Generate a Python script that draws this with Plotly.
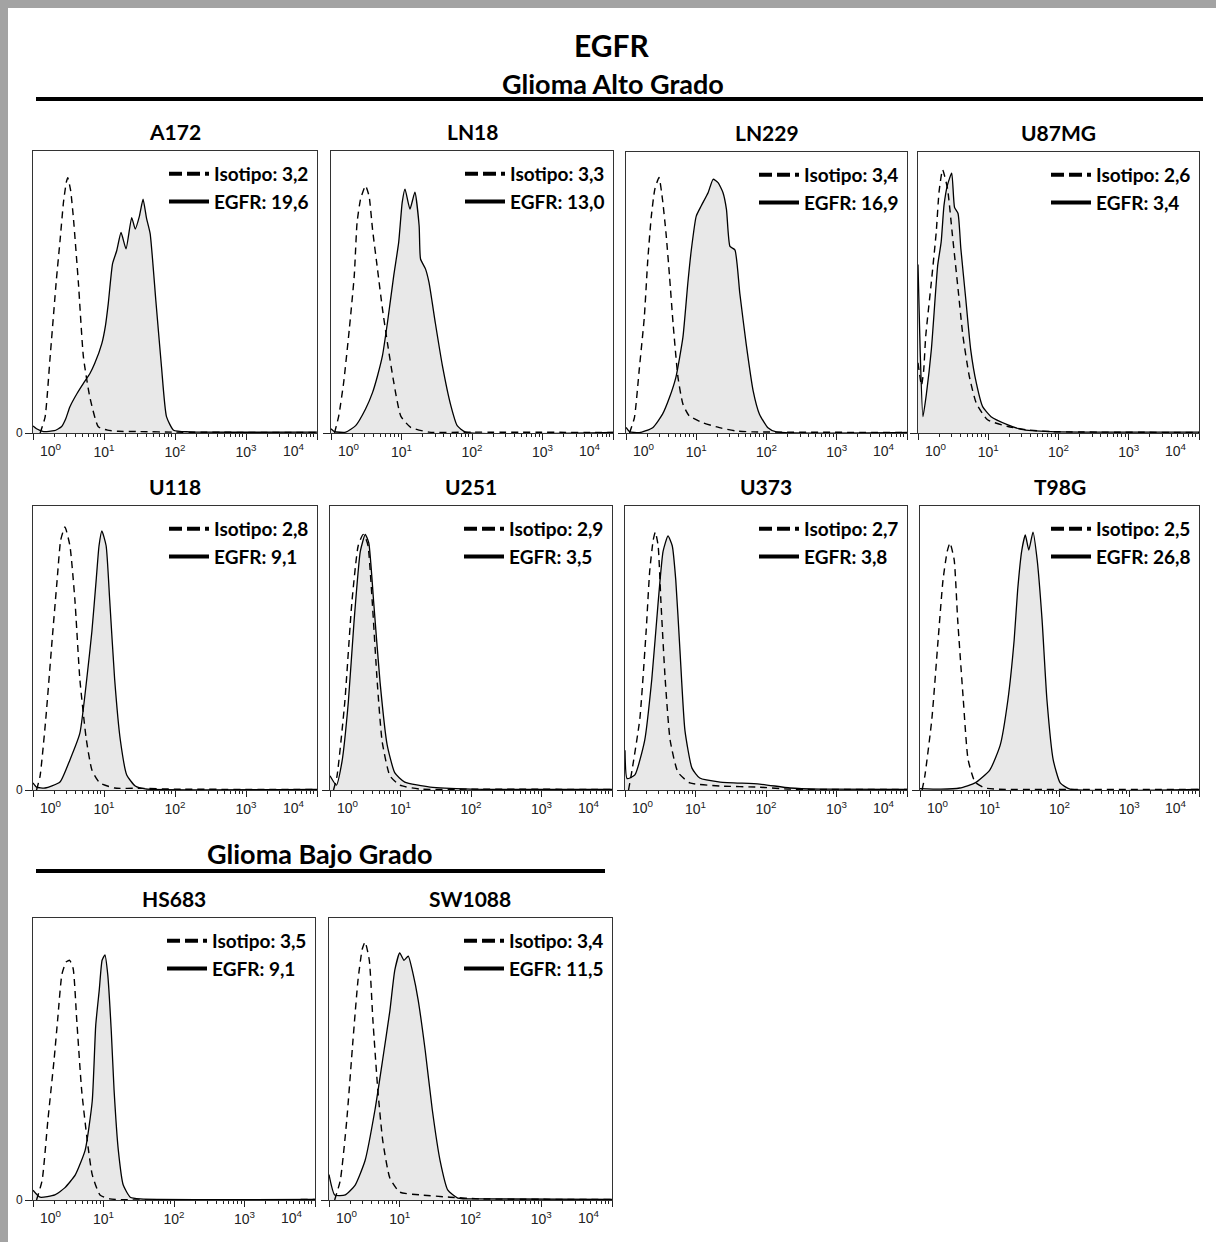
import plotly.graph_objects as go

W, H = 1216, 1242

# cell lines and mean fluorescence intensities (legend values)
CELLS = ["A172", "LN18", "LN229", "U87MG", "U118", "U251", "U373", "T98G", "HS683", "SW1088"]
ISO_MFI = ["3,2", "3,3", "3,4", "2,6", "2,8", "2,9", "2,7", "2,5", "3,5", "3,4"]
EGFR_MFI = ["19,6", "13,0", "16,9", "3,4", "9,1", "3,5", "3,8", "26,8", "9,1", "11,5"]

# histograms: x in decades (log10 FL), y in % of panel height
A172_ISO_X = [0.10, 0.17, 0.24, 0.33, 0.38, 0.43, 0.47, 0.49, 0.53, 0.57, 0.64, 0.71, 0.80, 0.92, 1.05, 1.20, 1.50, 2.00, 4.00]
A172_ISO_Y = [0.0, 5.6, 26.6, 54.5, 68.0, 82.0, 89.0, 90.5, 86.0, 76.0, 53.0, 27.0, 12.8, 2.2, 1.0, 0.6, 0.5, 0.3, 0.2]
A172_EGFR_X = [0.00, 0.05, 0.15, 0.30, 0.40, 0.46, 0.52, 0.62, 0.71, 0.80, 0.87, 0.97, 1.02, 1.06, 1.12, 1.18, 1.24, 1.31,
               1.39, 1.44, 1.50, 1.55, 1.60, 1.65, 1.73, 1.81, 1.88, 1.98, 2.20, 4.00]
A172_EGFR_Y = [2.5, 1.5, 0.5, 0.8, 2.2, 5.0, 9.3, 14.0, 17.6, 21.0, 24.7, 31.8, 38.0, 45.9, 60.0, 64.7, 71.1, 65.3,
               76.4, 72.3, 77.0, 82.9, 76.0, 70.7, 47.0, 23.4, 5.8, 1.0, 0.4, 0.3]

LN18_ISO_X = [0.05, 0.11, 0.18, 0.26, 0.33, 0.37, 0.42, 0.49, 0.54, 0.59, 0.66, 0.73, 0.80, 0.89, 0.99, 1.13, 1.39, 2.00, 4.00]
LN18_ISO_Y = [0.0, 6.1, 18.0, 36.9, 55.8, 74.7, 83.0, 87.7, 84.0, 72.0, 58.0, 44.0, 32.0, 18.0, 6.0, 2.0, 0.3, 0.3, 0.2]
LN18_EGFR_X = [0.00, 0.05, 0.21, 0.35, 0.49, 0.59, 0.66, 0.73, 0.80, 0.89, 0.96, 1.01, 1.05, 1.12, 1.19, 1.25, 1.27,
               1.34, 1.39, 1.48, 1.58, 1.70, 1.79, 1.91, 4.00]
LN18_EGFR_Y = [1.5, 0.5, 0.3, 2.6, 8.5, 14.4, 20.3, 27.4, 39.0, 55.8, 67.6, 81.8, 86.5, 79.4, 85.4, 73.5, 61.7,
               58.2, 53.4, 39.0, 23.9, 9.7, 2.6, 0.3, 0.2]

LN229_ISO_X = [0.05, 0.12, 0.19, 0.26, 0.31, 0.36, 0.41, 0.47, 0.52, 0.57, 0.62, 0.67, 0.74, 0.81, 0.90, 1.09, 1.33, 1.57, 1.81, 4.00]
LN229_ISO_Y = [0.0, 5.5, 23.0, 41.0, 61.6, 77.0, 86.7, 90.9, 83.0, 71.0, 55.7, 39.0, 19.8, 10.3, 6.1, 3.7, 1.9, 0.7, 0.4, 0.2]
LN229_EGFR_X = [0.00, 0.05, 0.19, 0.38, 0.52, 0.62, 0.71, 0.81, 0.88, 0.93, 1.00, 1.07, 1.17, 1.24, 1.31, 1.38, 1.43,
                1.48, 1.55, 1.62, 1.71, 1.81, 1.90, 2.02, 2.14, 4.00]
LN229_EGFR_Y = [2.0, 0.5, 0.1, 1.9, 6.7, 12.7, 19.8, 34.0, 53.3, 65.2, 77.2, 80.8, 85.6, 90.3, 89.1, 85.6, 79.6,
                66.4, 65.2, 49.7, 31.8, 15.0, 6.7, 1.9, 0.4, 0.2]

U87MG_ISO_X = [0.00, 0.05, 0.08, 0.11, 0.19, 0.26, 0.30, 0.35, 0.42, 0.49, 0.57, 0.64, 0.73, 0.83, 0.99, 1.28, 1.56, 1.89, 4.00]
U87MG_ISO_Y = [25.0, 17.0, 22.0, 34.5, 53.7, 71.6, 85.9, 93.7, 87.0, 70.4, 51.3, 34.5, 20.2, 10.6, 4.7, 2.3, 1.1, 0.5, 0.2]
U87MG_EGFR_X = [0.00, 0.03, 0.07, 0.12, 0.19, 0.28, 0.33, 0.37, 0.42, 0.48, 0.52, 0.57, 0.61, 0.68, 0.75, 0.83, 0.92,
                1.04, 1.28, 1.47, 1.89, 4.00]
U87MG_EGFR_Y = [60.0, 30.0, 5.8, 14.0, 29.7, 59.6, 68.0, 81.0, 88.3, 92.5, 80.3, 78.1, 65.6, 47.7, 29.7, 17.8, 9.4,
                5.8, 2.9, 1.3, 0.5, 0.3]

U118_ISO_X = [0.05, 0.10, 0.18, 0.27, 0.34, 0.39, 0.45, 0.52, 0.59, 0.66, 0.75, 0.83, 0.94, 1.15, 1.50, 2.00, 4.00]
U118_ISO_Y = [0.0, 5.0, 25.0, 53.0, 74.0, 88.0, 92.6, 86.0, 67.0, 39.0, 18.0, 7.0, 2.5, 0.7, 0.6, 0.3, 0.2]
U118_EGFR_X = [0.00, 0.05, 0.17, 0.38, 0.52, 0.66, 0.77, 0.83, 0.89, 0.93, 0.97, 1.03, 1.08, 1.15, 1.23, 1.32, 1.44, 1.58, 4.00]
U118_EGFR_Y = [2.5, 1.0, 0.7, 2.8, 10.6, 20.0, 42.0, 56.0, 74.0, 86.0, 91.2, 86.0, 67.0, 39.0, 17.6, 5.3, 1.4, 0.4, 0.2]

U251_ISO_X = [0.05, 0.10, 0.21, 0.31, 0.40, 0.47, 0.50, 0.54, 0.60, 0.67, 0.74, 0.85, 0.99, 1.28, 2.00, 4.00]
U251_ISO_Y = [0.0, 5.0, 31.0, 66.0, 86.0, 90.0, 89.0, 86.0, 66.0, 38.0, 17.0, 5.0, 1.7, 0.3, 0.3, 0.2]
U251_EGFR_X = [0.00, 0.09, 0.17, 0.26, 0.34, 0.43, 0.50, 0.55, 0.62, 0.71, 0.81, 0.92, 1.06, 1.42, 1.99, 4.00]
U251_EGFR_Y = [5.0, 1.7, 10.0, 31.0, 59.0, 84.0, 90.0, 87.0, 66.0, 38.0, 16.0, 6.0, 2.8, 1.0, 0.3, 0.2]

U373_ISO_X = [0.05, 0.10, 0.21, 0.30, 0.35, 0.40, 0.43, 0.47, 0.51, 0.57, 0.64, 0.75, 0.92, 1.35, 1.91, 2.34, 4.00]
U373_ISO_Y = [0.0, 7.0, 25.0, 56.0, 77.0, 88.0, 90.8, 86.0, 66.0, 39.0, 17.6, 6.3, 2.5, 1.4, 1.0, 0.3, 0.2]
U373_EGFR_X = [0.00, 0.03, 0.14, 0.28, 0.38, 0.47, 0.54, 0.61, 0.67, 0.72, 0.78, 0.85, 0.95, 1.06, 1.35, 1.91, 2.34, 2.77, 4.00]
U373_EGFR_Y = [14.0, 4.0, 5.3, 17.6, 39.0, 66.0, 84.0, 89.5, 86.0, 74.0, 49.0, 21.0, 7.7, 4.2, 2.8, 2.1, 0.7, 0.3, 0.2]

T98G_ISO_X = [0.03, 0.07, 0.17, 0.26, 0.33, 0.39, 0.43, 0.49, 0.54, 0.62, 0.69, 0.79, 0.93, 1.10, 4.00]
T98G_ISO_Y = [0.0, 5.0, 25.0, 53.0, 74.0, 84.0, 87.0, 81.0, 60.0, 32.0, 10.6, 2.8, 0.7, 0.3, 0.2]
T98G_EGFR_X = [0.00, 0.30, 0.57, 0.79, 1.00, 1.15, 1.26, 1.35, 1.40, 1.46, 1.51, 1.56, 1.62, 1.68, 1.75, 1.82, 1.91, 2.01, 2.15, 4.00]
T98G_EGFR_Y = [0.5, 0.3, 0.7, 2.5, 7.0, 15.8, 31.7, 52.8, 70.4, 84.5, 89.8, 84.5, 90.8, 81.0, 60.0, 31.7, 10.6, 2.5, 0.3, 0.2]

HS683_ISO_X = [0.05, 0.13, 0.21, 0.30, 0.35, 0.41, 0.47, 0.52, 0.57, 0.62, 0.69, 0.77, 0.84, 0.95, 1.09, 4.00]
HS683_ISO_Y = [0.0, 7.0, 28.0, 50.0, 64.0, 80.0, 84.4, 85.0, 82.0, 64.0, 39.0, 21.0, 9.0, 1.8, 0.4, 0.2]
HS683_EGFR_X = [0.00, 0.10, 0.31, 0.45, 0.60, 0.74, 0.84, 0.89, 0.94, 0.98, 1.02, 1.06, 1.11, 1.15, 1.21, 1.28, 1.38, 1.52, 4.00]
HS683_EGFR_Y = [3.5, 1.0, 1.8, 4.3, 8.9, 17.7, 35.0, 62.0, 74.5, 85.0, 86.9, 80.0, 60.0, 39.0, 17.7, 5.3, 1.0, 0.4, 0.2]

SW1088_ISO_X = [0.08, 0.16, 0.25, 0.34, 0.41, 0.47, 0.51, 0.57, 0.62, 0.69, 0.76, 0.86, 1.00, 1.29, 1.71, 2.13, 4.00]
SW1088_ISO_Y = [0.0, 7.0, 28.0, 57.0, 78.0, 89.0, 91.5, 85.0, 64.0, 39.0, 21.0, 7.8, 2.8, 1.8, 1.0, 0.4, 0.2]
SW1088_EGFR_X = [0.00, 0.08, 0.23, 0.37, 0.51, 0.65, 0.76, 0.86, 0.93, 1.00, 1.06, 1.12, 1.19, 1.26, 1.36, 1.46, 1.57,
                 1.68, 1.82, 2.13, 4.00]
SW1088_EGFR_Y = [9.0, 1.8, 1.8, 5.3, 14.0, 32.0, 50.0, 67.0, 81.5, 87.6, 85.0, 86.5, 80.0, 71.0, 53.0, 32.0, 14.0,
                 3.5, 0.7, 0.4, 0.2]

HISTS = {
    "A172": (A172_ISO_X, A172_ISO_Y, A172_EGFR_X, A172_EGFR_Y),
    "LN18": (LN18_ISO_X, LN18_ISO_Y, LN18_EGFR_X, LN18_EGFR_Y),
    "LN229": (LN229_ISO_X, LN229_ISO_Y, LN229_EGFR_X, LN229_EGFR_Y),
    "U87MG": (U87MG_ISO_X, U87MG_ISO_Y, U87MG_EGFR_X, U87MG_EGFR_Y),
    "U118": (U118_ISO_X, U118_ISO_Y, U118_EGFR_X, U118_EGFR_Y),
    "U251": (U251_ISO_X, U251_ISO_Y, U251_EGFR_X, U251_EGFR_Y),
    "U373": (U373_ISO_X, U373_ISO_Y, U373_EGFR_X, U373_EGFR_Y),
    "T98G": (T98G_ISO_X, T98G_ISO_Y, T98G_EGFR_X, T98G_EGFR_Y),
    "HS683": (HS683_ISO_X, HS683_ISO_Y, HS683_EGFR_X, HS683_EGFR_Y),
    "SW1088": (SW1088_ISO_X, SW1088_ISO_Y, SW1088_EGFR_X, SW1088_EGFR_Y),
}

# decade ticks; the two end labels are set inside the box (CellQuest style), see below
TICK_VALS = [1, 10, 100, 1000, 10000]
TICK_TEXT = ["", "10<sup>1</sup>", "10<sup>2</sup>", "10<sup>3</sup>", ""]
END_LABELS = [(0, "10<sup>0</sup>", "left", 5), (4, "10<sup>4</sup>", "right", -10)]
MINOR_VALS = [m * 10 ** d for d in range(4) for m in range(2, 10)]

# panel boxes in pixels: left, right, top, bottom (x axis)
BOXES = [
    (33, 317, 151, 433), (331, 613, 151, 433), (626, 907, 152, 433), (918, 1199, 152, 433),
    (33, 317, 506, 790), (330, 612, 506, 790), (625, 907, 506, 790), (920, 1199, 506, 790),
    (33, 315, 918, 1200), (329, 612, 918, 1200),
]
FIRST_COL = {0, 4, 8}

FONT = "Lato, 'Open Sans', sans-serif"
TICK_FONT = dict(family="'Liberation Sans', Arial, sans-serif", size=14, color="#222")

fig = go.Figure()
layout = {}
annotations = []

for i, cell in enumerate(CELLS):
    iso_x, iso_y, egfr_x, egfr_y = HISTS[cell]
    sfx = "" if i == 0 else str(i + 1)
    leg = "legend" if i == 0 else f"legend{i + 1}"
    x0, x1, top, bot = BOXES[i]

    fig.add_trace(go.Scatter(
        x=[10 ** v for v in egfr_x], y=egfr_y, mode="lines",
        line=dict(color="black", width=1.3, shape="spline", smoothing=0.5),
        fill="tozeroy", fillcolor="#e8e8e8", showlegend=False,
        xaxis=f"x{sfx}", yaxis=f"y{sfx}"))
    fig.add_trace(go.Scatter(
        x=[10 ** v for v in iso_x], y=iso_y, mode="lines",
        line=dict(color="black", width=1.4, dash="7px,5px", shape="spline", smoothing=0.5),
        showlegend=False, xaxis=f"x{sfx}", yaxis=f"y{sfx}"))
    # legend-only entries with heavier strokes, like the original key
    fig.add_trace(go.Scatter(
        x=[None], y=[None], mode="lines", name=f"<b>Isotipo: {ISO_MFI[i]}</b>",
        line=dict(color="black", width=4, dash="13px,5px"), legend=leg,
        xaxis=f"x{sfx}", yaxis=f"y{sfx}"))
    fig.add_trace(go.Scatter(
        x=[None], y=[None], mode="lines", name=f"<b>EGFR: {EGFR_MFI[i]}</b>",
        line=dict(color="black", width=4), legend=leg,
        xaxis=f"x{sfx}", yaxis=f"y{sfx}"))

    layout[f"xaxis{sfx}"] = dict(
        domain=[x0 / W, x1 / W], anchor=f"y{sfx}", type="log", range=[0, 4],
        tickmode="array", tickvals=TICK_VALS, ticktext=TICK_TEXT,
        ticks="outside", ticklen=6, tickwidth=1, tickcolor="#222",
        minor=dict(tickmode="array", tickvals=MINOR_VALS, ticks="outside", ticklen=3,
                   tickwidth=1, tickcolor="#222", showgrid=False),
        showline=True, mirror=True, linecolor="#333", linewidth=1, automargin=False,
        showgrid=False, zeroline=False, tickfont=TICK_FONT, fixedrange=True)
    layout[f"yaxis{sfx}"] = dict(
        domain=[1 - bot / H, 1 - top / H], anchor=f"x{sfx}", range=[0, 100],
        tickmode="array", tickvals=[0], ticktext=["0"], ticks="outside", ticklen=7,
        tickcolor="#222", showticklabels=i in FIRST_COL, automargin=False,
        showline=True, mirror=True, linecolor="#333", linewidth=1,
        showgrid=False, zeroline=False, tickfont=dict(TICK_FONT, size=12), fixedrange=True)
    layout[leg] = dict(
        x=(x1 - 3) / W, y=1 - (top + 4) / H, xanchor="right", yanchor="top",
        bgcolor="rgba(0,0,0,0)", borderwidth=0, itemwidth=40, tracegroupgap=0,
        font=dict(family=FONT, size=19, color="black"), itemclick=False)

    annotations.append(dict(
        text=f"<b>{cell}</b>", xref=f"x{sfx} domain", yref=f"y{sfx} domain",
        x=0.5, y=1, xanchor="center", yanchor="bottom", yshift=5, showarrow=False,
        font=dict(family=FONT, size=21, color="black")))
    for dec, txt, anchor, shift in END_LABELS:
        annotations.append(dict(
            text=txt, xref=f"x{sfx}", yref=f"y{sfx} domain", x=dec, y=0,
            xanchor=anchor, yanchor="top", xshift=shift, yshift=-6, showarrow=False,
            font=TICK_FONT))

annotations += [
    dict(text="<b>EGFR</b>", xref="paper", yref="paper", x=612 / W, y=1 - 45 / H,
         xanchor="center", yanchor="middle", showarrow=False,
         font=dict(family=FONT, size=30, color="black")),
    dict(text="<b>Glioma Alto Grado</b>", xref="paper", yref="paper", x=613 / W, y=1 - 84 / H,
         xanchor="center", yanchor="middle", showarrow=False,
         font=dict(family=FONT, size=27, color="black")),
    dict(text="<b>Glioma Bajo Grado</b>", xref="paper", yref="paper", x=320 / W, y=1 - 853 / H,
         xanchor="center", yanchor="middle", showarrow=False,
         font=dict(family=FONT, size=27, color="black")),
]

shapes = [
    # grey frame of the original slide
    dict(type="rect", xref="paper", yref="paper", x0=0, x1=8 / W, y0=0, y1=1,
         fillcolor="#a3a3a3", line=dict(width=0), layer="below"),
    dict(type="rect", xref="paper", yref="paper", x0=0, x1=1, y0=1 - 8 / H, y1=1,
         fillcolor="#a3a3a3", line=dict(width=0), layer="below"),
    # section rules
    dict(type="line", xref="paper", yref="paper", x0=36 / W, x1=1203 / W, y0=1 - 99 / H, y1=1 - 99 / H,
         line=dict(color="black", width=4)),
    dict(type="line", xref="paper", yref="paper", x0=36 / W, x1=605 / W, y0=1 - 871 / H, y1=1 - 871 / H,
         line=dict(color="black", width=4)),
]

fig.update_layout(
    width=W, height=H, margin=dict(l=0, r=0, t=0, b=0, autoexpand=False),
    paper_bgcolor="white", plot_bgcolor="white",
    annotations=annotations, shapes=shapes, **layout)

fig.write_html("out.html", config={"displayModeBar": False})

# drop the default page margin so the figure fills the window exactly
with open("out.html", encoding="utf-8") as f:
    html = f.read()
html = html.replace("<head>", "<head><style>html,body{margin:0;padding:0;overflow:hidden;}</style>", 1)
with open("out.html", "w", encoding="utf-8") as f:
    f.write(html)
